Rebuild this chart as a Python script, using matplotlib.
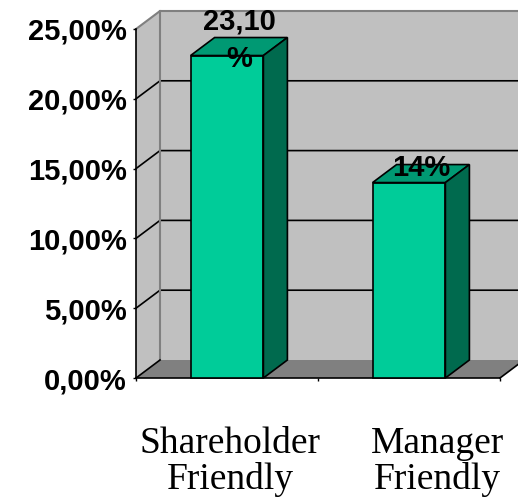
import matplotlib.pyplot as plt
from matplotlib.patches import Polygon

# chart data
categories = ['Shareholder\nFriendly', 'Manager\nFriendly']
values = [23.10, 14.0]
value_labels = ['23,10\n%', '14%']
yticks = [0, 5, 10, 15, 20, 25]

# colours (Excel style 3D column)
front_col = '#00CC99'
top_col = '#009973'
side_col = '#006A4E'
wall_col = '#C0C0C0'
floor_col = '#808080'
edge_grey = '#808080'

W, H = 518, 498
fig = plt.figure(figsize=(W / 100, H / 100), dpi=100)
ax = fig.add_axes([136 / W, 1 - 378 / H, (500 - 136) / W, (378 - 29) / H])
ax.set_xlim(0, len(categories))
ax.set_ylim(0, yticks[-1])
for s in ax.spines.values():
    s.set_visible(False)

# depth of the 3D box in data units (24 px right, 18 px up)
dx = 24 / (364 / len(categories))
dy = 18 / (349 / yticks[-1])
xmax = len(categories)
ymax = yticks[-1]

# walls and floor
ax.add_patch(Polygon([(dx, dy), (xmax + dx, dy), (xmax + dx, ymax + dy), (dx, ymax + dy)],
                     closed=True, fc=wall_col, ec='none', clip_on=False, zorder=0))
ax.add_patch(Polygon([(0, 0), (dx, dy), (dx, ymax + dy), (0, ymax)],
                     closed=True, fc=wall_col, ec='none', clip_on=False, zorder=0))
ax.add_patch(Polygon([(0, 0), (xmax, 0), (xmax + dx, dy), (dx, dy)],
                     closed=True, fc=floor_col, ec='none', clip_on=False, zorder=1))

# gridlines on back and side walls
for v in yticks[1:-1]:
    ax.plot([0, dx, xmax + dx], [v, v + dy, v + dy], color='black', lw=1.2,
            clip_on=False, zorder=1)
ax.plot([0, dx], [0, dy], color='black', lw=1.2, clip_on=False, zorder=2)
ax.plot([0, dx, xmax + dx], [ymax, ymax + dy, ymax + dy], color=edge_grey, lw=1.5,
        clip_on=False, zorder=1)
ax.plot([dx, dx], [dy, ymax + dy], color=edge_grey, lw=1.5, clip_on=False, zorder=1)
ax.plot([xmax, xmax + dx], [0, dy], color='black', lw=1.2, clip_on=False, zorder=2)

# axis lines
ax.plot([0, 0], [0, ymax], color='black', lw=1.2, clip_on=False, zorder=2)
ax.plot([0, xmax], [0, 0], color='black', lw=1.2, clip_on=False, zorder=2)

# bars
bw = 0.4
for i, v in enumerate(values):
    x0 = i + 0.5 - bw / 2
    x1 = i + 0.5 + bw / 2
    ax.add_patch(Polygon([(x0, 0), (x1, 0), (x1, v), (x0, v)],
                         closed=True, fc=front_col, ec='black', lw=1.2, zorder=3, clip_on=False))
    ax.add_patch(Polygon([(x0, v), (x1, v), (x1 + dx, v + dy), (x0 + dx, v + dy)],
                         closed=True, fc=top_col, ec='black', lw=1.2, zorder=3, clip_on=False))
    ax.add_patch(Polygon([(x1, 0), (x1 + dx, dy), (x1 + dx, v + dy), (x1, v)],
                         closed=True, fc=side_col, ec='black', lw=1.2, zorder=3, clip_on=False))
    ax.annotate(value_labels[i], xy=(i + 0.5 + dx / 2, v + dy),
                xytext=(0, -3 * 0.72), textcoords='offset points',
                ha='center', va='center', fontsize=21, fontweight='bold',
                family='Liberation Sans', linespacing=1.45, zorder=5,
                annotation_clip=False)

# y ticks
ax.set_yticks(yticks)
ax.set_yticklabels([f'{v:.2f}'.replace('.', ',') + '%' for v in yticks],
                   fontsize=21, fontweight='bold', family='Liberation Sans')
ax.tick_params(axis='y', length=2.5, width=1, pad=4)

# x ticks (marks only) and category labels
ax.set_xticks(range(xmax + 1))
ax.set_xticklabels([])
ax.tick_params(axis='x', length=2.5, width=1)
label_shift_px = [3, 28]
for i, lab in enumerate(categories):
    ax.annotate(lab, xy=(i + 0.5, 0), xycoords=('data', 'axes fraction'),
                xytext=(label_shift_px[i] * 0.72, -48 * 0.72), textcoords='offset points',
                ha='center', va='top', fontsize=27, family='Liberation Serif',
                linespacing=1.05)

fig.savefig('out.png', dpi=100)
